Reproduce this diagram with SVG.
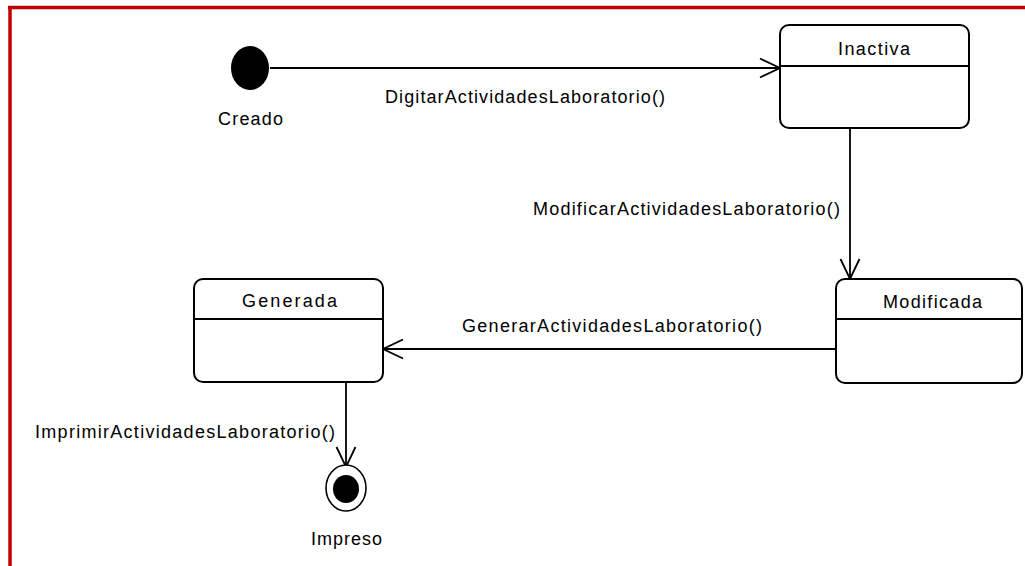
<svg xmlns="http://www.w3.org/2000/svg" width="1025" height="566" viewBox="0 0 1025 566">
<style>
.state{fill:#fff;stroke:#000;stroke-width:2}
.div{stroke:#000;stroke-width:2}
.lbl{font-family:"Liberation Sans",Arial,sans-serif;font-size:18px;fill:#000}
.conn{stroke:#000;stroke-width:1.8;fill:none}
</style>
<defs>
<marker id="open" markerUnits="userSpaceOnUse" markerWidth="40" markerHeight="40" refX="0" refY="0" orient="auto" overflow="visible">
<path d="M-20,-9.5 L0,0 L-20,9.5" fill="none" stroke="#000" stroke-width="1.8"/>
</marker>
</defs>
<rect x="0" y="0" width="1025" height="566" fill="#fff"/>
<g id="frame">
<line x1="8" y1="7.5" x2="1025" y2="7.5" stroke="#c00000" stroke-width="3.5"/>
<line x1="10" y1="6" x2="10" y2="566" stroke="#c00000" stroke-width="3.5"/>
</g>
<g id="connectors">
<line class="conn" x1="270" y1="68" x2="780" y2="68" marker-end="url(#open)"/>
<text class="lbl" x="385" y="103" textLength="280" lengthAdjust="spacing">DigitarActividadesLaboratorio()</text>
<line class="conn" x1="850" y1="128" x2="850" y2="279" marker-end="url(#open)"/>
<text class="lbl" x="533" y="215" textLength="307" lengthAdjust="spacing">ModificarActividadesLaboratorio()</text>
<line class="conn" x1="836" y1="349" x2="383" y2="349" marker-end="url(#open)"/>
<text class="lbl" x="462" y="332" textLength="300" lengthAdjust="spacing">GenerarActividadesLaboratorio()</text>
<line class="conn" x1="346" y1="382" x2="346" y2="467" marker-end="url(#open)"/>
<text class="lbl" x="35" y="438" textLength="300" lengthAdjust="spacing">ImprimirActividadesLaboratorio()</text>
</g>
<g id="creado">
<ellipse cx="250" cy="68" rx="19" ry="22" fill="#000"/>
<text class="lbl" x="218" y="125" textLength="65" lengthAdjust="spacing">Creado</text>
</g>
<g id="inactiva">
<rect class="state" x="780" y="25" width="189" height="103" rx="9"/>
<line class="div" x1="780" y1="66" x2="969" y2="66"/>
<text class="lbl" x="838" y="55" textLength="72" lengthAdjust="spacing">Inactiva</text>
</g>
<g id="modificada">
<rect class="state" x="836" y="279" width="186" height="104" rx="9"/>
<line class="div" x1="836" y1="319" x2="1022" y2="319"/>
<text class="lbl" x="883" y="308" textLength="99" lengthAdjust="spacing">Modificada</text>
</g>
<g id="generada">
<rect class="state" x="194" y="279" width="189" height="103" rx="9"/>
<line class="div" x1="194" y1="319" x2="383" y2="319"/>
<text class="lbl" x="242" y="307" textLength="95" lengthAdjust="spacing">Generada</text>
</g>
<g id="impreso">
<ellipse cx="346" cy="488" rx="20" ry="23" fill="#fff" stroke="#000" stroke-width="1.6"/>
<ellipse cx="346" cy="489" rx="13" ry="14" fill="#000"/>
<text class="lbl" x="311" y="545" textLength="71" lengthAdjust="spacing">Impreso</text>
</g>
</svg>
